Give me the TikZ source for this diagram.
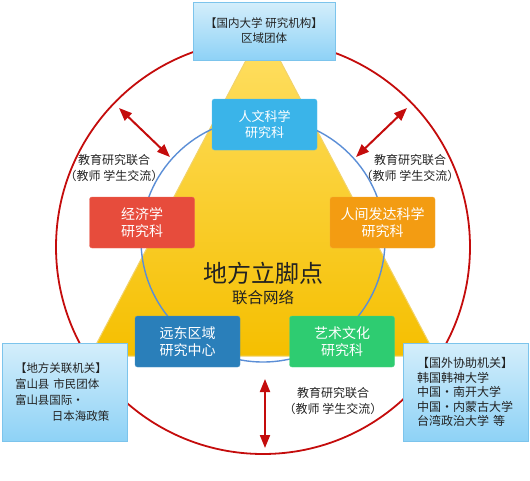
\documentclass[tikz,border=0pt]{standalone}
\usepackage{fontspec}
\setmainfont{Noto Sans CJK SC}
\usetikzlibrary{arrows.meta,shadows}
\definecolor{redc}{HTML}{C40C0C}
\definecolor{bluec}{HTML}{5B8ED6}
\definecolor{trtop}{HTML}{FFE066}
\definecolor{trbot}{HTML}{F5BF00}
\definecolor{tredge}{HTML}{F2D36B}
\definecolor{cHum}{HTML}{3AB4E9}
\definecolor{cEco}{HTML}{E74C3C}
\definecolor{cDev}{HTML}{F39C12}
\definecolor{cFar}{HTML}{2A7FBA}
\definecolor{cArt}{HTML}{2ECC71}
\definecolor{infotop}{HTML}{D4EEFB}
\definecolor{infobot}{HTML}{8ED2F6}
\definecolor{infoedge}{HTML}{7CC4EC}
\definecolor{txt}{HTML}{222222}
\tikzset{
  dept/.style={rounded corners=2.5pt, fill=#1, draw=#1!85!white, text=white,
    minimum width=105pt, minimum height=51pt, inner sep=0pt, align=center,
    font=\fontsize{14}{17}\selectfont},
  infobox/.style={draw=infoedge, line width=0.8pt, top color=infotop, bottom color=infobot,
    text=txt, inner sep=0pt},
  link/.style={draw=redc, line width=2pt, {Triangle[length=13pt,width=10pt]}-{Triangle[length=13pt,width=10pt]}},
  lbl/.style={text=txt, align=center, font=\fontsize{12}{16}\selectfont, inner sep=0pt}
}
\begin{document}
\begin{tikzpicture}[x=1pt,y=-1pt]
\useasboundingbox (0,0) rectangle (530,480);
% triangle
\path[top color=trtop, bottom color=trbot, draw=tredge, line width=1pt]
  (263,28) -- (436,356) -- (90,356) -- cycle;
% circles
\node[draw=redc, line width=1.8pt, circle, minimum size=414pt, inner sep=0pt] (outer) at (263,247) {};
\node[draw=bluec, line width=1.4pt, circle, minimum size=244pt, inner sep=0pt] (inner) at (263,240) {};
% arrows
\coordinate (la1) at (119,108); \coordinate (la2) at (170,157);
\coordinate (ra1) at (407,108); \coordinate (ra2) at (356,157);
\coordinate (ba1) at (265,379); \coordinate (ba2) at (265,448);
\draw[link] (la1) -- (la2);
\draw[link] (ra1) -- (ra2);
\draw[link] (ba1) -- (ba2);
% center text
\node[text=txt, inner sep=0pt, font=\fontsize{24}{26}\selectfont] (title) at (263,273) {地方立脚点};
\node[text=txt, inner sep=0pt, font=\fontsize{15.5}{17}\selectfont] (sub) at (263,298) {联合网络};
% departments
\node[dept=cHum, font=\fontsize{13}{16}\selectfont] (hum) at (264.5,124.5) {人文科学\\研究科};
\node[dept=cEco] (eco) at (142,222.5) {经济学\\研究科};
\node[dept=cDev] (dev) at (382.5,222.5) {人间发达科学\\研究科};
\node[dept=cFar] (far) at (187.5,341.5) {远东区域\\研究中心};
\node[dept=cArt] (art) at (342,341.5) {艺术文化\\研究科};
% info boxes
\node[infobox, minimum width=142pt, minimum height=58pt, align=center,
  font=\fontsize{11.5}{15}\selectfont] (top) at (264,31) {【国内大学 研究机构】\\区域团体};
\node[infobox, minimum width=125pt, minimum height=98pt, text width=112pt, align=left,
  font=\fontsize{11.5}{16}\selectfont] (left) at (64.5,392)
  {\hspace*{6.5pt}【地方关联机关】\\\hspace*{6.5pt}富山县 市民团体\\\hspace*{6.5pt}富山县国际・\\\hspace*{43.5pt}日本海政策};
\node[infobox, minimum width=125pt, minimum height=98pt, text width=112pt, align=left,
  font=\fontsize{12}{14.5}\selectfont] (right) at (465.5,392)
  {\hspace*{7.5pt}【国外协助机关】\\\hspace*{7.5pt}韩国韩神大学\\\hspace*{7.5pt}中国・南开大学\\\hspace*{7.5pt}中国・内蒙古大学\\\hspace*{7.5pt}台湾政治大学 等};
% labels
\node[lbl] (ll) at (114,168) {教育研究联合\\（教师 学生交流）};
\node[lbl] (rl) at (410,168) {教育研究联合\\（教师 学生交流）};
\node[lbl] (bl) at (333,401) {教育研究联合\\（教师 学生交流）};
\end{tikzpicture}
\end{document}
